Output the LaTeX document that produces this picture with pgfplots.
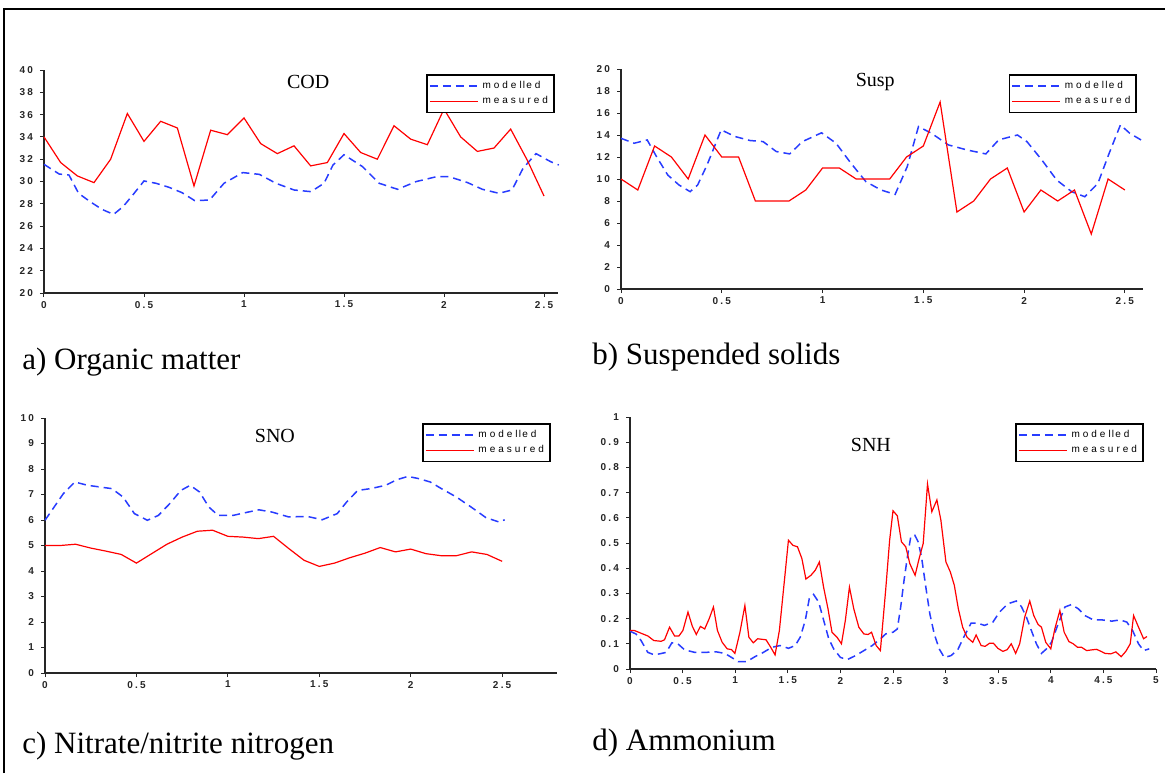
\documentclass[border=0pt]{standalone}
\usepackage{fontspec}
\setmainfont{Liberation Serif}
\setsansfont{Liberation Sans}
\usepackage{pgfplots}
\pgfplotsset{compat=1.18}
\definecolor{modblue}{RGB}{40,60,255}
\definecolor{measred}{RGB}{255,0,0}
\pgfplotsset{
 panel/.style={
  scale only axis,
  axis x line*=bottom, axis y line*=left,
  axis line style={line width=0.7pt, black!85},
  tick style={line width=0.5pt, black!85},
  major tick length=2pt,
  tick align=outside,
  ticklabel style={font=\fontsize{5}{6}\selectfont\sffamily\bfseries, text=black!85},
  xticklabel style={yshift=1.5pt},
  legend style={draw=black, line width=0.9pt, fill=white, font=\fontsize{5}{6}\selectfont\sffamily, anchor=north east, inner sep=1pt, row sep=-1.5pt},
  legend cell align=left,
  legend image code/.code={\draw[##1] (0pt,0pt) -- (24pt,0pt);},
  clip=false,
 },
 modstyle/.style={color=modblue, line width=0.75pt, dash pattern=on 4pt off 2.5pt},
 measstyle/.style={color=measred, line width=0.6pt},
}
\newcommand{\lk}{\kern1.5pt}
\newcommand{\Mod}{m\lk o\lk d\lk e\lk l\kern0.6pt l\kern0.6pt e\lk d}
\newcommand{\Meas}{m\lk e\lk a\lk s\lk u\lk r\lk e\lk d}
\newcommand{\g}{\kern1.1pt}
\begin{document}
\begin{tikzpicture}
\useasboundingbox (0,0) rectangle (582.5pt,386.5pt);
\draw[line width=1.2pt] (2pt,0pt) -- (2pt,382pt) -- (582.5pt,382pt);

% ---------- a) COD
\begin{axis}[panel, at={(22pt,240pt)}, anchor=south west, width=257pt, height=111.5pt,
 xmin=0, xmax=2.57, ymin=20, ymax=40,
 xtick={0,0.5,1,1.5,2,2.5}, xticklabels={0,0\g.\g5,1,1\g.\g5,2,2\g.\g5},
 ytick={20,22,24,26,28,30,32,34,36,38,40},
 yticklabels={2\g0,2\g2,2\g4,2\g6,2\g8,3\g0,3\g2,3\g4,3\g6,3\g8,4\g0},
 legend style={at={(0.994,0.982)}}]
\addplot[modstyle] coordinates {(0,31.54) (0.076,30.67) (0.125,30.58) (0.173,28.94) (0.23,28.2) (0.29,27.5) (0.348,27.05) (0.395,27.74) (0.44,28.7) (0.5,30.05) (0.56,29.84) (0.625,29.48) (0.69,29.0) (0.754,28.28) (0.828,28.34) (0.9,29.84) (0.994,30.8) (1.077,30.64) (1.16,29.84) (1.25,29.24) (1.335,29.09) (1.4,29.84) (1.445,31.48) (1.5,32.4) (1.593,31.33) (1.676,29.84) (1.768,29.3) (1.86,29.99) (1.962,30.43) (2.026,30.43) (2.118,29.9) (2.192,29.3) (2.275,28.94) (2.34,29.24) (2.395,31.18) (2.46,32.5) (2.533,31.78) (2.574,31.48)};
\addlegendentry{\Mod}
\addplot[measstyle] coordinates {(0,34.0) (0.0833,31.7) (0.1667,30.5) (0.25,29.9) (0.3333,32.0) (0.4167,36.1) (0.5,33.6) (0.5833,35.4) (0.6667,34.8) (0.75,29.6) (0.8333,34.6) (0.9167,34.2) (1.0,35.7) (1.0833,33.4) (1.1667,32.5) (1.25,33.2) (1.3333,31.4) (1.4167,31.7) (1.5,34.3) (1.5833,32.6) (1.6667,32.0) (1.75,35.0) (1.8333,33.8) (1.9167,33.3) (2.0,36.5) (2.0833,34.0) (2.1667,32.7) (2.25,33.0) (2.3333,34.7) (2.4167,31.9) (2.5,28.7)};
\addlegendentry{\Meas}
\node[font=\fontsize{10}{12}\selectfont] at (rel axis cs:0.514,0.946) {COD};
\end{axis}

% ---------- b) Susp
\begin{axis}[panel, at={(310.5pt,242pt)}, anchor=south west, width=261pt, height=110pt,
 xmin=0, xmax=2.59, ymin=0, ymax=20,
 xtick={0,0.5,1,1.5,2,2.5}, xticklabels={0,0\g.\g5,1,1\g.\g5,2,2\g.\g5},
 ytick={0,2,4,6,8,10,12,14,16,18,20},
 yticklabels={0,2,4,6,8,1\g0,1\g2,1\g4,1\g6,1\g8,2\g0},
 legend style={at={(0.989,0.977)}}]
\addplot[modstyle] coordinates {(0,13.7) (0.065,13.25) (0.13,13.55) (0.176,12.04) (0.232,10.36) (0.288,9.45) (0.343,8.85) (0.38,9.45) (0.427,11.28) (0.497,14.47) (0.566,13.86) (0.64,13.5) (0.705,13.4) (0.77,12.5) (0.837,12.28) (0.9,13.4) (0.995,14.2) (1.067,13.25) (1.141,11.43) (1.215,9.76) (1.29,9.0) (1.36,8.6) (1.42,11.12) (1.476,14.77) (1.54,14.16) (1.624,13.1) (1.717,12.64) (1.81,12.28) (1.874,13.56) (1.967,14.0) (2.014,13.4) (2.088,11.73) (2.162,9.9) (2.236,8.85) (2.301,8.39) (2.366,9.6) (2.422,12.34) (2.478,14.92) (2.524,14.16) (2.58,13.55)};
\addlegendentry{\Mod}
\addplot[measstyle] coordinates {(0,10) (0.0833,9) (0.1667,13) (0.25,12) (0.3333,10) (0.4167,14) (0.5,12) (0.5833,12) (0.6667,8) (0.75,8) (0.8333,8) (0.9167,9) (1.0,11) (1.0833,11) (1.1667,10) (1.25,10) (1.3333,10) (1.4167,12) (1.5,13) (1.5833,17) (1.6667,7) (1.75,8) (1.8333,10) (1.9167,11) (2.0,7) (2.0833,9) (2.1667,8) (2.25,9) (2.3333,5) (2.4167,10) (2.5,9)};
\addlegendentry{\Meas}
\node[font=\fontsize{10}{12}\selectfont] at (rel axis cs:0.487,0.94) {Susp};
\end{axis}

% ---------- c) SNO
\begin{axis}[panel, at={(22.5pt,50pt)}, anchor=south west, width=256pt, height=127.5pt,
 xmin=0, xmax=2.8, ymin=0, ymax=10,
 xtick={0,0.5,1,1.5,2,2.5}, xticklabels={0,0\g.\g5,1,1\g.\g5,2,2\g.\g5},
 ytick={0,1,2,3,4,5,6,7,8,9,10},
 yticklabels={0,1,2,3,4,5,6,7,8,9,1\g0},
 legend style={at={(0.988,0.98)}}]
\addplot[modstyle] coordinates {(0,5.99) (0.05,6.51) (0.1,7.03) (0.163,7.49) (0.234,7.36) (0.305,7.29) (0.366,7.23) (0.427,6.9) (0.489,6.25) (0.56,5.99) (0.62,6.18) (0.682,6.64) (0.743,7.16) (0.794,7.36) (0.845,7.1) (0.896,6.51) (0.947,6.18) (1.028,6.18) (1.11,6.31) (1.17,6.4) (1.242,6.31) (1.333,6.12) (1.435,6.14) (1.516,6.01) (1.598,6.25) (1.649,6.7) (1.71,7.16) (1.78,7.23) (1.863,7.36) (1.924,7.58) (1.985,7.71) (2.046,7.62) (2.107,7.49) (2.168,7.23) (2.25,6.9) (2.33,6.51) (2.412,6.09) (2.484,5.92) (2.514,6.01)};
\addlegendentry{\Mod}
\addplot[measstyle] coordinates {(0,5.0) (0.0833,5.0) (0.1667,5.05) (0.25,4.9) (0.3333,4.78) (0.4167,4.65) (0.5,4.31) (0.5833,4.68) (0.6667,5.05) (0.75,5.33) (0.8333,5.56) (0.9167,5.6) (1.0,5.36) (1.0833,5.33) (1.1667,5.27) (1.25,5.36) (1.3333,4.88) (1.4167,4.42) (1.5,4.18) (1.5833,4.31) (1.6667,4.52) (1.75,4.7) (1.8333,4.92) (1.9167,4.75) (2.0,4.86) (2.0833,4.68) (2.1667,4.6) (2.25,4.6) (2.3333,4.75) (2.4167,4.65) (2.5,4.38)};
\addlegendentry{\Meas}
\node[font=\fontsize{10}{12}\selectfont] at (rel axis cs:0.449,0.93) {SNO};
\end{axis}

% ---------- d) SNH
\begin{axis}[panel, at={(315pt,52pt)}, anchor=south west, width=263pt, height=126pt,
 xmin=0, xmax=5, ymin=0, ymax=1,
 xtick={0,0.5,1,1.5,2,2.5,3,3.5,4,4.5,5},
 xticklabels={0,0\g.\g5,1,1\g.\g5,2,2\g.\g5,3,3\g.\g5,4,4\g.\g5,5},
 ytick={0,0.1,0.2,0.3,0.4,0.5,0.6,0.7,0.8,0.9,1},
 yticklabels={0,0\g.\g1,0\g.\g2,0\g.\g3,0\g.\g4,0\g.\g5,0\g.\g6,0\g.\g7,0\g.\g8,0\g.\g9,1},
 legend style={at={(0.977,0.976)}}]
\addplot[modstyle] coordinates {(0,0.150) (0.057,0.139) (0.105,0.113) (0.169,0.066) (0.226,0.057) (0.280,0.060) (0.344,0.066) (0.398,0.104) (0.455,0.100) (0.519,0.076) (0.615,0.066) (0.710,0.066) (0.822,0.068) (0.901,0.062) (0.965,0.046) (1.029,0.029) (1.108,0.029) (1.188,0.049) (1.268,0.066) (1.347,0.086) (1.427,0.093) (1.506,0.082) (1.570,0.093) (1.618,0.126) (1.666,0.193) (1.704,0.279) (1.745,0.296) (1.793,0.266) (1.841,0.193) (1.889,0.120) (1.936,0.080) (2.000,0.046) (2.064,0.037) (2.143,0.053) (2.223,0.073) (2.302,0.093) (2.382,0.120) (2.430,0.139) (2.500,0.146) (2.541,0.159) (2.573,0.246) (2.605,0.352) (2.637,0.445) (2.669,0.525) (2.707,0.531) (2.739,0.505) (2.771,0.445) (2.812,0.325) (2.850,0.219) (2.892,0.139) (2.939,0.080) (2.987,0.046) (3.051,0.053) (3.115,0.076) (3.172,0.126) (3.242,0.182) (3.306,0.182) (3.369,0.173) (3.449,0.186) (3.513,0.226) (3.592,0.259) (3.672,0.270) (3.720,0.248) (3.768,0.206) (3.815,0.153) (3.863,0.100) (3.911,0.062) (3.959,0.080) (4.006,0.106) (4.070,0.179) (4.134,0.246) (4.197,0.256) (4.261,0.239) (4.325,0.212) (4.404,0.195) (4.484,0.195) (4.580,0.190) (4.660,0.195) (4.723,0.186) (4.777,0.153) (4.834,0.100) (4.882,0.073) (4.936,0.080)};
\addlegendentry{\Mod}
\addplot[measstyle] coordinates {(0,0.153) (0.04,0.153) (0.17,0.131) (0.226,0.113) (0.296,0.110) (0.328,0.116) (0.376,0.166) (0.424,0.131) (0.465,0.131) (0.503,0.153) (0.551,0.226) (0.592,0.170) (0.630,0.137) (0.669,0.169) (0.710,0.159) (0.752,0.199) (0.793,0.246) (0.831,0.153) (0.876,0.106) (0.924,0.080) (0.965,0.077) (0.997,0.062) (1.045,0.146) (1.092,0.252) (1.130,0.126) (1.172,0.104) (1.213,0.120) (1.252,0.118) (1.293,0.116) (1.338,0.086) (1.379,0.056) (1.420,0.153) (1.468,0.352) (1.506,0.511) (1.548,0.491) (1.592,0.485) (1.634,0.438) (1.672,0.357) (1.720,0.372) (1.761,0.392) (1.800,0.425) (1.840,0.325) (1.882,0.239) (1.920,0.146) (1.968,0.126) (2.010,0.100) (2.047,0.193) (2.086,0.325) (2.127,0.239) (2.175,0.166) (2.223,0.139) (2.264,0.137) (2.296,0.146) (2.340,0.093) (2.380,0.073) (2.430,0.312) (2.468,0.511) (2.500,0.628) (2.541,0.608) (2.580,0.505) (2.621,0.485) (2.660,0.418) (2.710,0.372) (2.748,0.438) (2.787,0.498) (2.828,0.734) (2.869,0.624) (2.917,0.671) (2.955,0.591) (3.003,0.425) (3.045,0.385) (3.083,0.332) (3.121,0.239) (3.162,0.166) (3.204,0.126) (3.258,0.106) (3.290,0.135) (3.338,0.093) (3.376,0.090) (3.417,0.102) (3.455,0.102) (3.497,0.082) (3.545,0.070) (3.586,0.077) (3.624,0.100) (3.666,0.062) (3.704,0.100) (3.752,0.206) (3.800,0.270) (3.838,0.212) (3.879,0.177) (3.911,0.166) (3.952,0.106) (4.000,0.080) (4.038,0.159) (4.086,0.232) (4.127,0.146) (4.172,0.109) (4.213,0.100) (4.255,0.086) (4.293,0.086) (4.341,0.073) (4.389,0.076) (4.436,0.078) (4.478,0.070) (4.516,0.062) (4.570,0.060) (4.618,0.068) (4.669,0.049) (4.713,0.070) (4.755,0.100) (4.787,0.212) (4.834,0.166) (4.882,0.120) (4.914,0.129)};
\addlegendentry{\Meas}
\node[font=\fontsize{10}{12}\selectfont] at (rel axis cs:0.458,0.889) {SNH};
\end{axis}

% ---------- captions
\node[anchor=base west, inner sep=0pt, font=\fontsize{15.5}{18}\selectfont] at (11pt,202pt) {a) Organic matter};
\node[anchor=base west, inner sep=0pt, font=\fontsize{15.5}{18}\selectfont] at (296pt,204.5pt) {b) Suspended solids};
\node[anchor=base west, inner sep=0pt, font=\fontsize{15.5}{18}\selectfont] at (11pt,10pt) {c) Nitrate/nitrite nitrogen};
\node[anchor=base west, inner sep=0pt, font=\fontsize{15.5}{18}\selectfont] at (296pt,11.5pt) {d) Ammonium};
\end{tikzpicture}
\end{document}
